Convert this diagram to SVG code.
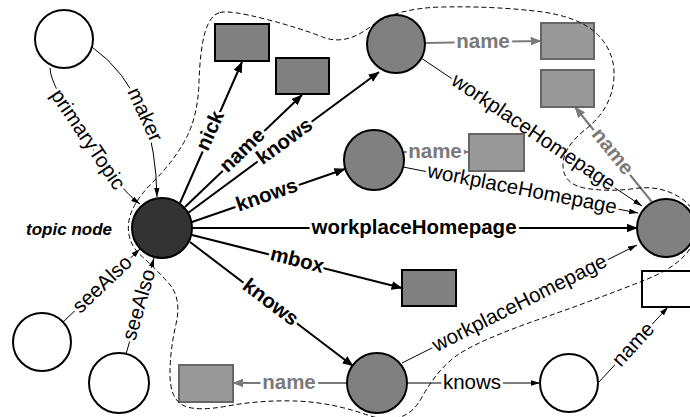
<svg xmlns="http://www.w3.org/2000/svg" width="690" height="417" viewBox="0 0 690 417">
<defs>
<style>
.lb{font:bold 20.5px "Liberation Sans",Arial,sans-serif;fill:#000}
.lr{font:20.5px "Liberation Sans",Arial,sans-serif;fill:#000}
.lg{font:bold 20.5px "Liberation Sans",Arial,sans-serif;fill:#7a7a7a}
.tn{font:italic bold 17px "Liberation Sans",Arial,sans-serif;fill:#000}
.halo{stroke:#fff;stroke-width:6;stroke-linejoin:round;paint-order:stroke}
.eb{stroke:#000;stroke-width:2;fill:none;marker-end:url(#ab)}
.et{stroke:#000;stroke-width:1;fill:none;marker-end:url(#at)}
.eg{stroke:#7a7a7a;stroke-width:2;fill:none;marker-end:url(#ag)}
.cw{fill:#fff;stroke:#000;stroke-width:2}
.cg{fill:#808080;stroke:#000;stroke-width:2}
.ct{fill:#333;stroke:#000;stroke-width:2}
.rd{fill:#808080;stroke:#000;stroke-width:2}
.rl{fill:#999;stroke:#666;stroke-width:2}
.rw{fill:#fff;stroke:#000;stroke-width:2}
.dash{fill:none;stroke:#000;stroke-width:1;stroke-dasharray:5 3}
</style>
<marker id="ab" viewBox="0 0 10 8" refX="9.5" refY="4" markerWidth="11" markerHeight="8.8" orient="auto" markerUnits="userSpaceOnUse"><path d="M0,0L10,4L0,8z" fill="#000"/></marker>
<marker id="at" viewBox="0 0 10 6" refX="10" refY="3" markerWidth="9" markerHeight="5.4" orient="auto" markerUnits="userSpaceOnUse"><path d="M0,0L10,3L0,6z" fill="#000"/></marker>
<marker id="ag" viewBox="0 0 10 8" refX="9.5" refY="4" markerWidth="11" markerHeight="8.8" orient="auto" markerUnits="userSpaceOnUse"><path d="M0,0L10,4L0,8z" fill="#7a7a7a"/></marker>
</defs>
<rect width="690" height="417" fill="#fff"/>

<g id="connectors">
<path class="eb" d="M180,203 L242,62"/>
<path class="eb" d="M185,207 L302,95"/>
<path class="eb" d="M188,213 L379,72"/>
<path class="eb" d="M192,222 L345,169"/>
<path class="eb" d="M192,228 L637,228"/>
<path class="eb" d="M192,235 L402,288"/>
<path class="eb" d="M190,242 L353,366"/>
<path class="et" d="M92,47 Q125,70 144,115 Q156,150 157,197"/>
<path class="et" d="M50,68 Q50,85 87,140 Q120,190 140,204"/>
<path class="et" d="M63,322 L140,249"/>
<path class="et" d="M126,354 L154,258"/>
<path class="eg" d="M425,43 L541,41"/>
<path class="et" d="M421,58 L642,206"/>
<path class="eg" d="M404,152 L469,152"/>
<path class="et" d="M403,167 L638,213"/>
<path class="eg" d="M652,202 L575,107"/>
<path class="et" d="M402,363 L637,245"/>
<path class="eg" d="M347,383 L233,383"/>
<path class="et" d="M407,383 L540,383"/>
<path class="et" d="M599,382 L668,307"/>

<text class="lb halo" text-anchor="middle" dy="0.27em" transform="translate(211,131) rotate(-66)">nick</text>
<text class="lb halo" text-anchor="middle" dy="0.27em" transform="translate(243,151) rotate(-44)">name</text>
<text class="lb halo" text-anchor="middle" dy="0.27em" transform="translate(285,142) rotate(-36)">knows</text>
<text class="lb halo" text-anchor="middle" dy="0.27em" transform="translate(267,196) rotate(-19)">knows</text>
<text class="lb halo" text-anchor="middle" dy="0.27em" transform="translate(414,228)">workplaceHomepage</text>
<text class="lb halo" text-anchor="middle" dy="0.27em" transform="translate(297,261) rotate(14)">mbox</text>
<text class="lb halo" text-anchor="middle" dy="0.27em" transform="translate(270,303) rotate(37)">knows</text>
<text class="lr halo" text-anchor="middle" dy="0.27em" transform="translate(144,115) rotate(65)">maker</text>
<text class="lr halo" text-anchor="middle" dy="0.27em" transform="translate(87,140) rotate(56)">primaryTopic</text>
<text class="lr halo" text-anchor="middle" dy="0.27em" transform="translate(103,285) rotate(-43.5)">seeAlso</text>
<text class="lr halo" text-anchor="middle" dy="0.27em" transform="translate(140,305) rotate(-73.7)">seeAlso</text>
<text class="lg halo" text-anchor="middle" dy="0.27em" transform="translate(483,42)">name</text>
<text class="lr halo" text-anchor="middle" dy="0.27em" transform="translate(533,133) rotate(34)">workplaceHomepage</text>
<text class="lg halo" text-anchor="middle" dy="0.27em" transform="translate(435,152)">name</text>
<text class="lr halo" text-anchor="middle" dy="0.27em" transform="translate(522,190) rotate(11)">workplaceHomepage</text>
<text class="lg halo" text-anchor="middle" dy="0.27em" transform="translate(612,152) rotate(51)">name</text>
<text class="lr halo" text-anchor="middle" dy="0.27em" transform="translate(520,304) rotate(-26.7)">workplaceHomepage</text>
<text class="lg halo" text-anchor="middle" dy="0.27em" transform="translate(289,383)">name</text>
<text class="lr halo" text-anchor="middle" dy="0.27em" transform="translate(472,383)">knows</text>
<text class="lr halo" text-anchor="middle" dy="0.27em" transform="translate(634,345) rotate(-47.4)">name</text>
</g>

<g id="n-doc-top"><circle class="cw" cx="64" cy="39" r="29"/></g>
<g id="n-topic"><circle class="ct" cx="162" cy="228" r="30"/><text class="tn" x="112" y="235" text-anchor="end">topic node</text></g>
<g id="n-nick"><rect class="rd" x="215" y="24" width="54" height="37"/></g>
<g id="n-name"><rect class="rd" x="276" y="58" width="53" height="36"/></g>
<g id="n-person1"><circle class="cg" cx="396" cy="44" r="29"/></g>
<g id="n-person1-name"><rect class="rl" x="541" y="23" width="53" height="36"/></g>
<g id="n-person2"><circle class="cg" cx="374" cy="160" r="30"/></g>
<g id="n-person2-name"><rect class="rl" x="469" y="134" width="55" height="37"/></g>
<g id="n-org-name"><rect class="rl" x="541" y="70" width="53" height="37"/></g>
<g id="n-org"><circle class="cg" cx="666" cy="228" r="29"/></g>
<g id="n-mbox"><rect class="rd" x="402" y="270" width="54" height="36"/></g>
<g id="n-person3"><circle class="cg" cx="377" cy="383" r="30"/></g>
<g id="n-person3-name"><rect class="rl" x="179" y="365" width="54" height="37"/></g>
<g id="n-person4"><circle class="cw" cx="569" cy="383" r="29"/></g>
<g id="n-person4-name"><rect class="rw" x="642" y="271" width="54" height="36"/></g>
<g id="n-doc1"><circle class="cw" cx="42" cy="342" r="29"/></g>
<g id="n-doc2"><circle class="cw" cx="119" cy="383" r="30"/></g>

<g id="outline">
<path class="dash" d="M220,12.5 Q230,10 265,19 Q300,28 322.5,37 Q345,46 370,27 Q395,8 442.5,7 Q490,6 535,11 Q580,16 598.5,35.5 Q617,55 613.5,82.5 Q610,110 586,129 Q562,148 563,166.5 Q564,185 587,188.5 Q610,192 635,188.5 Q660,185 680,197.5 Q700,210 695,236 Q690,262 645,280 Q600,298 540,319 Q480,340 459,354 Q438,368 421.5,398 Q405,428 367.5,415 Q330,402 295,401 Q260,400 227.5,406 Q195,412 182.5,405 Q170,398 170,374 Q170,350 176,324 Q182,298 168.5,283 Q155,268 141,255.5 Q127,243 128.5,224 Q130,205 152.5,182.5 Q175,160 186.5,137.5 Q198,115 199,82.5 Q200,50 205,32.5 Q210,15 220,12.5 Z"/>
</g>
</svg>
